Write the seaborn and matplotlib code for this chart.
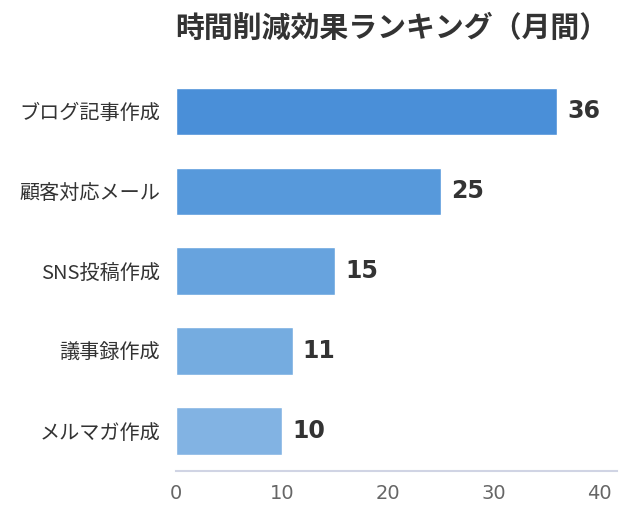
import matplotlib
matplotlib.use("Agg")
import matplotlib.pyplot as plt
import seaborn as sns
import pandas as pd

sns.set_style("white")
plt.rcParams['font.family'] = ['Noto Sans CJK JP', 'DejaVu Sans']

tasks = ["ブログ記事作成", "顧客対応メール", "SNS投稿作成", "議事録作成", "メルマガ作成"]
hours = [36, 25, 15, 11, 10]
bar_colors = ["#4A8FD8", "#5799DB", "#67A3DE", "#75ACE0", "#82B3E3"]

df = pd.DataFrame({"task": tasks, "hours": hours})

fig = plt.figure(figsize=(6.3, 5.23), dpi=100)
ax = fig.add_axes([0.2794, 0.0994, 0.6996, 0.7646])

sns.barplot(data=df, y="task", x="hours", hue="task", palette=bar_colors,
            legend=False, width=0.59, saturation=1, ax=ax)

for i, v in enumerate(hours):
    ax.text(v + 0.95, i, str(v), va="center", ha="left",
            fontsize=17, fontweight="bold", color="#333333",
            family="DejaVu Sans")

ax.set_xlim(0, 41.6)
ax.set_ylim(4.5, -0.5)
ax.set_xticks([0, 10, 20, 30, 40])
ax.set_xlabel("")
ax.set_ylabel("")
ax.tick_params(axis="x", labelcolor="#666666", labelsize=14, length=5, width=1.2,
               direction="out", pad=4, color="#888888")
for lab in ax.get_xticklabels():
    lab.set_family("DejaVu Sans")
ax.tick_params(axis="y", length=0, labelsize=14.5, labelcolor="#333333", pad=11.5)

for side in ["top", "right", "left"]:
    ax.spines[side].set_visible(False)
ax.spines["bottom"].set_color("#D0D4E4")
ax.spines["bottom"].set_linewidth(1.5)

fig.text(0.622, 0.946, "時間削減効果ランキング（月間）", ha="center", va="center",
         fontsize=20.8, fontweight="bold", color="#333333")

fig.savefig("out.png", dpi=100)
